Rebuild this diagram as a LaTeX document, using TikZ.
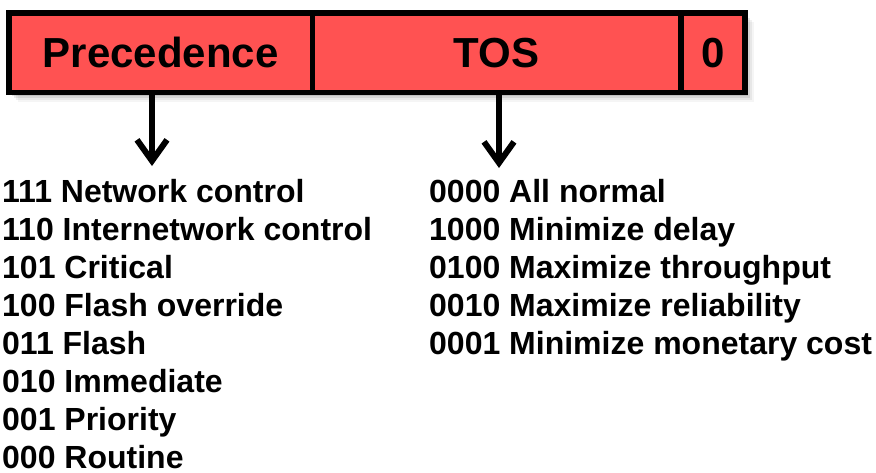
\documentclass[tikz,border=0pt]{standalone}
\usepackage{fontspec}
\setmainfont{Liberation Sans}
\usetikzlibrary{arrows.meta,calc}
\definecolor{fieldred}{RGB}{255,82,82}
\tikzset{
  field/.style={draw=black, line width=5.5pt, fill=fieldred, inner sep=0pt,
    minimum height=79.5pt, font=\fontsize{42}{48}\selectfont\bfseries},
  arr/.style={line width=6pt, -{Straight Barb[length=21pt,width=30pt,line width=6pt]}},
  item/.style={anchor=base west, inner sep=0pt, font=\fontsize{32}{38}\selectfont\bfseries}
}
\begin{document}
\begin{tikzpicture}[x=1pt,y=-1pt]
\useasboundingbox (0,0) rectangle (876,472);
% soft shadow
\foreach \d/\o in {3/0.10,5/0.08,7/0.06,9/0.04}{
  \fill[black,opacity=\o] (9+\d,13+\d) rectangle (745+\d,92.5+\d);
}
\node[field, minimum width=303.5pt] (prec) at (160.75,52.75) {\raisebox{-1pt}{Precedence}};
\node[field, minimum width=368.5pt] (tos) at (496.75,52.75) {\raisebox{-1pt}{TOS}};
\node[field, minimum width=64pt] (zero) at (713,52.75) {\raisebox{-1pt}{0}};
\coordinate (a1) at (152,166);
\coordinate (a2) at (499,168);
\draw[arr] (prec.south -| a1) -- (a1);
\draw[arr] (tos.south -| a2) -- (a2);
\foreach \t [count=\i from 0] in {111 Network control,110 Internetwork control,101 Critical,100 Flash override,011 Flash,010 Immediate,001 Priority,000 Routine}{
  \node[item] (p\i) at (2,202.5+38*\i) {\t};
}
\foreach \t [count=\i from 0] in {0000 All normal,1000 Minimize delay,0100 Maximize throughput,0010 Maximize reliability,0001 Minimize monetary cost}{
  \node[item] (t\i) at (429,202.5+38*\i) {\t};
}
\end{tikzpicture}
\end{document}
